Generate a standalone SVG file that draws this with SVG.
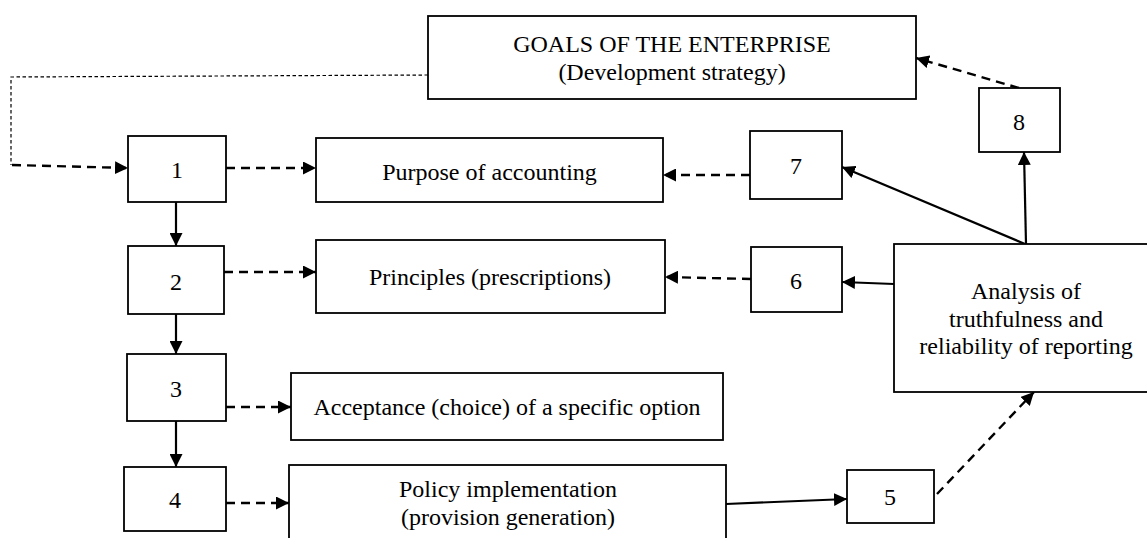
<svg xmlns="http://www.w3.org/2000/svg" width="1147" height="538" viewBox="0 0 1147 538">
<defs>
<marker id="ah" markerWidth="14" markerHeight="13" refX="13" refY="6.5" orient="auto" markerUnits="userSpaceOnUse">
<path d="M0,0 L13,6.5 L0,13 z" fill="#000"/>
</marker>
<style>
.box{fill:#fff;stroke:#000;stroke-width:1.8}
.t{font-family:"Liberation Serif","Times New Roman",serif;font-size:24px;fill:#000;text-anchor:middle}
.solid{fill:none;stroke:#000;stroke-width:2.2}
.dash{fill:none;stroke:#000;stroke-width:2.4;stroke-dasharray:9 6}
.dot{fill:none;stroke:#000;stroke-width:1.2;stroke-dasharray:3.5 2.5}
</style>
</defs>
<rect width="1147" height="538" fill="#fff"/>
<g id="connectors">
<path class="dot" d="M428,75 L11,77 L11,165"/>
<path class="dash" d="M12,165 L128,168" marker-end="url(#ah)"/>
<path class="dash" d="M226,168 L316,168" marker-end="url(#ah)"/>
<path class="dash" d="M224,272 L316,272" marker-end="url(#ah)"/>
<path class="dash" d="M226,407 L291,407" marker-end="url(#ah)"/>
<path class="dash" d="M226,503 L289,503" marker-end="url(#ah)"/>
<path class="solid" d="M176,202 L176,246" marker-end="url(#ah)"/>
<path class="solid" d="M176,314 L176,354" marker-end="url(#ah)"/>
<path class="solid" d="M176,421 L176,467" marker-end="url(#ah)"/>
<path class="dash" d="M750,175 L663,175" marker-end="url(#ah)"/>
<path class="dash" d="M751,279 L665,277" marker-end="url(#ah)"/>
<path class="solid" d="M726,504 L847,499" marker-end="url(#ah)"/>
<path class="solid" d="M894,284 L842,282" marker-end="url(#ah)"/>
<path class="solid" d="M1025,244 L842,167" marker-end="url(#ah)"/>
<path class="solid" d="M1026,244 L1024,152" marker-end="url(#ah)"/>
<path class="dash" d="M937,494 L1034,392" marker-end="url(#ah)"/>
<path class="dash" d="M1019,88 L916,58" marker-end="url(#ah)"/>
</g>
<g id="goals">
<rect class="box" x="428" y="16" width="488" height="83"/>
<text class="t" x="672" y="52">GOALS OF THE ENTERPRISE</text>
<text class="t" x="672" y="80">(Development strategy)</text>
</g>
<g id="n1"><rect class="box" x="128" y="136" width="98" height="66"/><text class="t" x="177" y="178">1</text></g>
<g id="n2"><rect class="box" x="128" y="246" width="96" height="68"/><text class="t" x="176" y="290">2</text></g>
<g id="n3"><rect class="box" x="127" y="354" width="99" height="67"/><text class="t" x="176" y="397">3</text></g>
<g id="n4"><rect class="box" x="124" y="467" width="102" height="64"/><text class="t" x="175" y="508">4</text></g>
<g id="purpose"><rect class="box" x="316" y="138" width="347" height="64"/><text class="t" x="489.5" y="180">Purpose of accounting</text></g>
<g id="principles"><rect class="box" x="316" y="240" width="349" height="73"/><text class="t" x="490" y="285">Principles (prescriptions)</text></g>
<g id="acceptance"><rect class="box" x="291" y="373" width="432" height="67"/><text class="t" x="507" y="415">Acceptance (choice) of a specific option</text></g>
<g id="policy"><rect class="box" x="289" y="465" width="437" height="80"/><text class="t" x="508" y="497">Policy implementation</text><text class="t" x="508" y="525">(provision generation)</text></g>
<g id="n5"><rect class="box" x="847" y="470" width="87" height="53"/><text class="t" x="890" y="505">5</text></g>
<g id="n6"><rect class="box" x="751" y="247" width="91" height="65"/><text class="t" x="796" y="289">6</text></g>
<g id="n7"><rect class="box" x="750" y="131" width="92" height="68"/><text class="t" x="796" y="174">7</text></g>
<g id="n8"><rect class="box" x="979" y="88" width="81" height="64"/><text class="t" x="1019" y="130">8</text></g>
<g id="analysis"><rect class="box" x="894" y="244" width="266" height="148"/>
<text class="t" x="1026" y="299">Analysis of</text>
<text class="t" x="1026" y="327">truthfulness and</text>
<text class="t" x="1026" y="354">reliability of reporting</text>
</g>
</svg>
